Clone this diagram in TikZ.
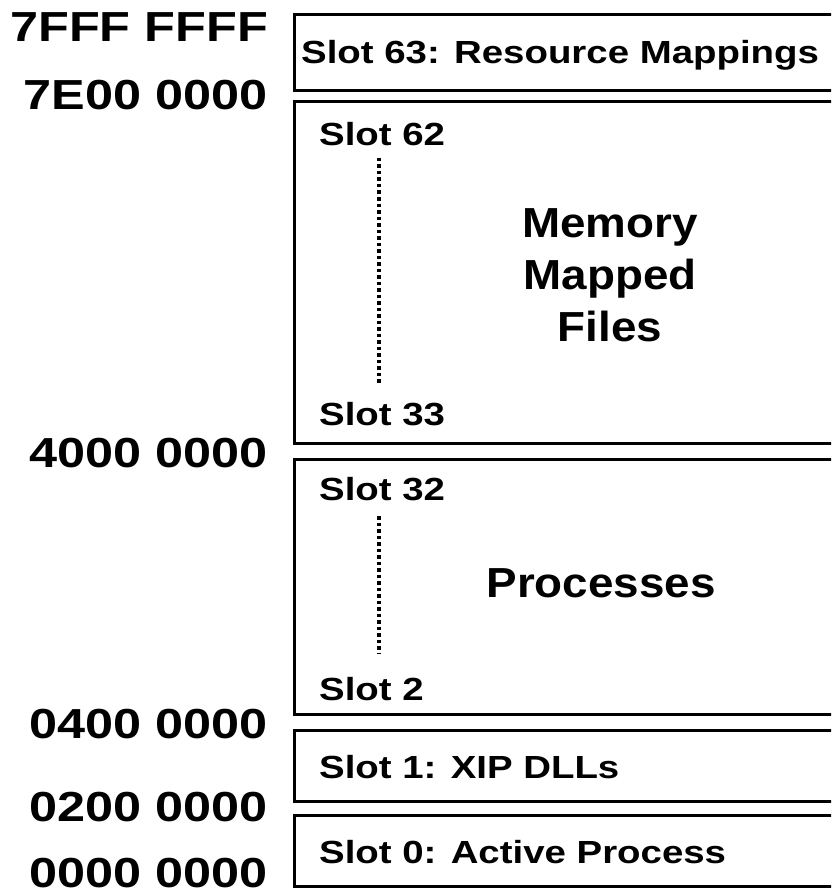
\documentclass[tikz,border=0pt]{standalone}
\usepackage{fontspec}
\newfontfamily\labelfont{Liberation Sans}[FakeStretch=1.2]
\newfontfamily\titlefont{Liberation Sans}[FakeStretch=1.09]
\begin{document}
\begin{tikzpicture}[x=1pt,y=-1pt,
  slotbox/.style={draw=black, line width=3pt, rectangle, anchor=north west,
    inner sep=0pt, outer sep=0pt},
  addr/.style={anchor=base east, inner sep=0pt,
    font=\labelfont\bfseries\fontsize{42}{48}\selectfont},
  slotlabel/.style={anchor=base west, inner sep=0pt,
    font=\labelfont\bfseries\fontsize{32}{38}\selectfont},
  region/.style={anchor=base, inner sep=0pt,
    font=\titlefont\bfseries\fontsize{42}{48}\selectfont},
  slotdots/.style={line width=3.5pt, dash pattern=on 3.5pt off 3pt}]
\useasboundingbox (0,0) rectangle (831,896);
\clip (0,0) rectangle (831,896);

% address boundaries
\node[addr] (a7fff) at (268,42)  {7FFF FFFF};
\node[addr] (a7e00) at (268,110) {7E00 0000};
\node[addr] (a4000) at (268,467) {4000 0000};
\node[addr] (a0400) at (268,738) {0400 0000};
\node[addr] (a0200) at (268,821) {0200 0000};
\node[addr] (a0000) at (268,887) {0000 0000};

% slot regions (open to the right)
\node[slotbox, minimum width=570pt, minimum height=76pt]  (bres)  at (294.5,15)  {};
\node[slotbox, minimum width=570pt, minimum height=341pt] (bmmf)  at (294.5,102) {};
\node[slotbox, minimum width=570pt, minimum height=255pt] (bproc) at (294.5,459) {};
\node[slotbox, minimum width=570pt, minimum height=71pt]  (bxip)  at (294.5,730) {};
\node[slotbox, minimum width=570pt, minimum height=71pt]  (bact)  at (294.5,815) {};

% slot labels
\node[slotlabel] (s63) at (301,64)  {Slot 63: Resource Mappings};
\node[slotlabel] (s62) at (319,146) {Slot 62};
\node[slotlabel] (s33) at (319,425) {Slot 33};
\node[slotlabel] (s32) at (319,500) {Slot 32};
\node[slotlabel] (s2)  at (319,700) {Slot 2};
\node[slotlabel] (s1)  at (319,778) {Slot 1: XIP DLLs};
\node[slotlabel] (s0)  at (319,863) {Slot 0: Active Process};

% region titles
\node[region] (mem)   at (610,237) {Memory};
\node[region] (mapd)  at (610,289) {Mapped};
\node[region] (files) at (610,341) {Files};
\node[region] (procs) at (601,597) {Processes};

% elided slot ranges
\coordinate (d1a) at (379,158);
\coordinate (d1b) at (379,383);
\coordinate (d2a) at (379,516);
\coordinate (d2b) at (379,653);
\draw[slotdots] (d1a) -- (d1b);
\draw[slotdots] (d2a) -- (d2b);
\end{tikzpicture}
\end{document}
